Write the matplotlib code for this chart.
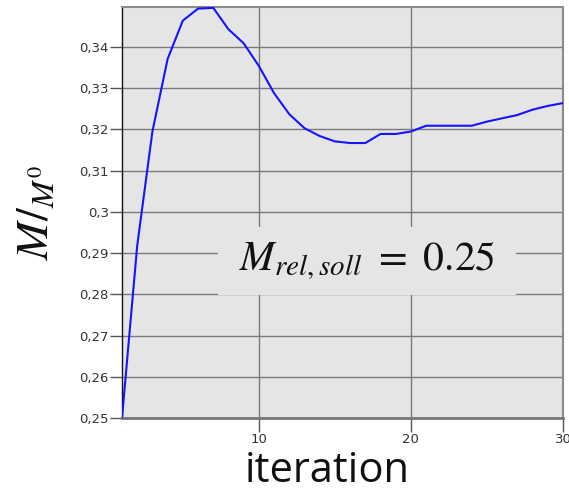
import matplotlib.pyplot as plt
from matplotlib.patches import Rectangle
from matplotlib.ticker import FuncFormatter

# === DATA ===
iteration = list(range(1, 31))
m_rel = [0.2500, 0.2918, 0.3195, 0.3371, 0.3464, 0.3493, 0.3495, 0.3443, 0.3409, 0.3354,
         0.3288, 0.3237, 0.3203, 0.3184, 0.3171, 0.3167, 0.3167, 0.3189, 0.3189, 0.3195,
         0.3209, 0.3209, 0.3209, 0.3209, 0.3219, 0.3227, 0.3235, 0.3248, 0.3257, 0.3264]
y_ticks = [0.25, 0.26, 0.27, 0.28, 0.29, 0.30, 0.31, 0.32, 0.33, 0.34]
x_ticks = [10, 20, 30]
annotation = r"$M_{rel,soll}\ =\ 0.25$"

plt.rcParams['mathtext.fontset'] = 'stix'

fig = plt.figure(figsize=(5.69, 4.91), dpi=100, facecolor='white')
ax = fig.add_axes([122 / 569, 1 - 418 / 491, 441 / 569, 411 / 491])
ax.set_facecolor('#e5e5e5')
ax.set_axisbelow(True)

ax.plot(iteration, m_rel, color='#1414ff', linewidth=1.5, zorder=3)

ax.set_xlim(1, 30)
ax.set_ylim(0.25, 0.3497)
ax.set_xticks(x_ticks)
ax.set_yticks(y_ticks)
ax.yaxis.set_major_formatter(FuncFormatter(lambda v, p: ('%g' % round(v, 4)).replace('.', ',')))
ax.grid(True, color='#7a7a7a', linewidth=1.0)

ax.tick_params(axis='y', length=9, width=1, color='#555', pad=0.5, labelsize=9.5, labelcolor='#333')
ax.tick_params(axis='x', length=10, width=1, color='#555', pad=0.5, labelsize=9.5, labelcolor='#333')

ax.spines['left'].set_color('#111')
ax.spines['left'].set_linewidth(1.0)
ax.spines['bottom'].set_color('#777')
ax.spines['bottom'].set_linewidth(2.0)
for s in ['top', 'right']:
    ax.spines[s].set_color('#8a8a8a')
    ax.spines[s].set_linewidth(1.5)

# box hiding the grid behind the annotation
ax.add_patch(Rectangle((0.2177, 0.2993), 0.6757, 0.1654, transform=ax.transAxes,
                       facecolor='#e5e5e5', edgecolor='none', zorder=1))
ax.text(0.556, 0.382, annotation, transform=ax.transAxes, ha='center', va='center',
        fontsize=30, color='#111', zorder=4)

fig.text(327 / 569, 1 - 482 / 491, "iteration", family='Open Sans', fontsize=30,
         ha='center', va='baseline', color='#111')
fig.text(36 / 569, 1 - 212 / 491, r"$M/_{M^0}$", rotation=90, fontsize=33,
         ha='center', va='center', color='#111')

fig.savefig('out.png', dpi=100)
